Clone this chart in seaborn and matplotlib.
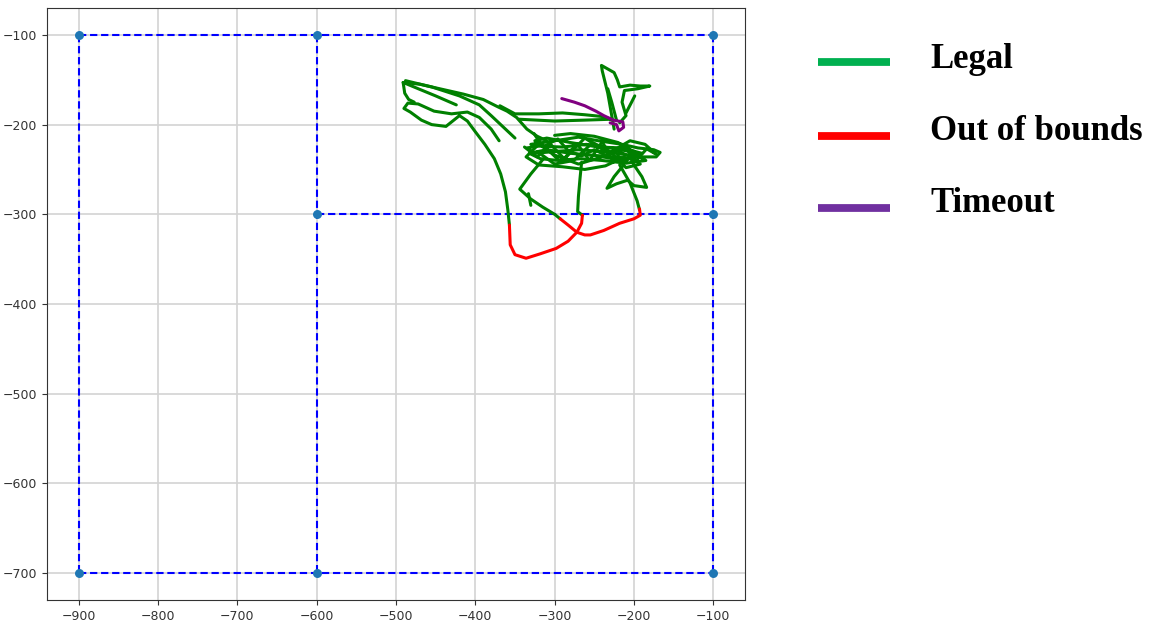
import matplotlib
matplotlib.use("Agg")
import matplotlib.pyplot as plt
from matplotlib.lines import Line2D
import seaborn as sns
import pandas as pd

# ---------------- data ----------------
# boundary track (blue dashed) : node coordinates
node_x = [-900, -600, -100, -600, -100, -900, -600, -100]
node_y = [-100, -100, -100, -300, -300, -700, -700, -700]
# boundary edges as (start node, end node)
edges = [(0, 2), (5, 7), (0, 5), (1, 6), (2, 7), (3, 4)]

# green (legal) trajectory segments
green_segments = [
    # main descent + lower-left loop
    [(-357, -312), (-359, -295), (-362, -275), (-368, -255), (-376, -238), (-388, -222),
     (-400, -208), (-410, -196), (-420, -190), (-437, -202), (-455, -200), (-468, -195),
     (-482, -186), (-490, -182), (-485, -176), (-472, -177), (-452, -185), (-430, -188),
     (-410, -186), (-395, -192), (-380, -205), (-370, -218)],
    [(-424, -178), (-450, -168), (-472, -160), (-491, -153), (-489, -165), (-484, -172),
     (-477, -175)],
    [(-491, -153), (-470, -155), (-445, -160), (-415, -166), (-390, -172), (-372, -180),
     (-360, -185), (-348, -192), (-335, -205), (-322, -213), (-310, -218)],
    [(-488, -151), (-455, -158), (-420, -168), (-395, -178), (-380, -190), (-362, -205),
     (-350, -215)],
    # top horizontal
    [(-369, -179), (-350, -188), (-320, -188), (-290, -187), (-262, -189), (-240, -191),
     (-228, -194), (-262, -195), (-300, -196), (-345, -194)],
    # central tangle
    [(-330, -222), (-300, -218), (-270, -214), (-245, -218), (-215, -222), (-195, -226),
     (-175, -228), (-167, -231), (-172, -236), (-190, -236), (-215, -233), (-240, -230),
     (-270, -228), (-300, -230), (-325, -232), (-335, -226), (-320, -224), (-290, -225),
     (-260, -222), (-230, -226), (-205, -230), (-185, -240), (-210, -243), (-240, -240),
     (-268, -238), (-295, -240), (-318, -238), (-332, -232), (-310, -228), (-280, -232),
     (-255, -234), (-225, -236), (-200, -238), (-190, -232), (-215, -226), (-245, -225),
     (-280, -220), (-310, -215), (-325, -218), (-300, -234), (-270, -244), (-240, -236),
     (-210, -240), (-195, -233), (-220, -220), (-250, -213), (-280, -210), (-300, -212)],
    [(-338, -225), (-322, -236), (-305, -222), (-288, -238), (-272, -221), (-256, -240),
     (-240, -219), (-226, -242), (-212, -224), (-198, -241), (-184, -227), (-172, -233),
     (-186, -222), (-205, -218), (-232, -232), (-262, -215), (-292, -242), (-318, -220),
     (-336, -236), (-320, -245), (-290, -247), (-262, -250), (-236, -246), (-212, -236)],
    [(-326, -210), (-315, -225), (-296, -216), (-283, -229), (-266, -235), (-250, -228),
     (-236, -234), (-222, -229), (-206, -235), (-192, -244), (-210, -248), (-230, -230),
     (-252, -220), (-276, -240), (-300, -244), (-322, -230)],
    # lower-left branch
    [(-314, -238), (-330, -255), (-344, -272), (-330, -283), (-315, -292), (-300, -300),
     (-293, -305)],
    [(-333, -277), (-330, -290)],
    # middle vertical
    [(-266, -242), (-268, -260), (-270, -280), (-271, -297), (-265, -301)],
    # right lower
    [(-213, -245), (-225, -258), (-234, -271), (-222, -266), (-208, -262), (-200, -268),
     (-184, -270), (-190, -258), (-200, -245), (-205, -236)],
    [(-218, -245), (-205, -265), (-196, -285), (-193, -295)],
    # upper right spike
    [(-225, -205), (-228, -190), (-233, -165), (-240, -140), (-241, -134), (-235, -137),
     (-225, -142), (-221, -150), (-218, -158), (-205, -156), (-192, -157), (-180, -157),
     (-195, -160), (-212, -162), (-215, -175), (-210, -190), (-218, -198)],
    [(-233, -160), (-228, -175), (-222, -195)],
    [(-210, -187), (-203, -175), (-199, -168)],
]

# red (out of bounds) segments
red_segments = [
    [(-357, -312), (-356, -334), (-350, -345), (-336, -349), (-318, -344), (-298, -338),
     (-283, -330), (-272, -320), (-266, -310), (-265, -301)],
    [(-293, -305), (-283, -312), (-272, -320), (-262, -323), (-255, -323), (-238, -318),
     (-218, -310), (-200, -305), (-192, -301), (-193, -294)],
]

# purple (timeout) segment
purple_segments = [
    [(-291, -171), (-275, -175), (-262, -179), (-248, -185), (-238, -190), (-226, -195),
     (-214, -197), (-213, -203), (-219, -207), (-222, -200), (-230, -198)],
]

legend_labels = ["Legal", "Out of bounds", "Timeout"]
legend_colors = ["#00b050", "#ff0000", "#7030a0"]

x_ticks = [-900, -800, -700, -600, -500, -400, -300, -200, -100]
y_ticks = [-100, -200, -300, -400, -500, -600, -700]


def seg_frame(segs):
    rows = []
    for i, s in enumerate(segs):
        for j, (x, y) in enumerate(s):
            rows.append({"x": x, "y": y, "seg": i, "order": j})
    return pd.DataFrame(rows)


edge_rows = []
for i, (a, b) in enumerate(edges):
    edge_rows.append({"x": node_x[a], "y": node_y[a], "seg": i})
    edge_rows.append({"x": node_x[b], "y": node_y[b], "seg": i})
edge_df = pd.DataFrame(edge_rows)
node_df = pd.DataFrame({"x": node_x, "y": node_y})

# ---------------- plot ----------------
fig = plt.figure(figsize=(11.59, 6.27), dpi=100)
ax = fig.add_axes([47 / 1159, 27 / 627, 698 / 1159, 592 / 627])

ax.grid(True, color="#d3d3d3", lw=1.2, zorder=0)
ax.set_axisbelow(True)

sns.lineplot(data=edge_df, x="x", y="y", units="seg", estimator=None, sort=False,
             color="blue", lw=1.5, ax=ax, zorder=2)
for line in ax.lines:
    line.set_dashes([3.5, 1.8])
sns.scatterplot(data=node_df, x="x", y="y", color="#1f77b4", s=42, linewidth=0,
                ax=ax, zorder=3)

for segs, col in [(green_segments, "green"), (red_segments, "red"),
                  (purple_segments, "purple")]:
    df = seg_frame(segs)
    sns.lineplot(data=df, x="x", y="y", units="seg", estimator=None, sort=False,
                 color=col, lw=2.2, ax=ax, zorder=4, solid_capstyle="round",
                 solid_joinstyle="round")

ax.set_xticks(x_ticks)
ax.set_yticks(y_ticks)
ax.set_xlim(-940, -60)
ax.set_ylim(-730, -70)
ax.set_xlabel("")
ax.set_ylabel("")
ax.tick_params(labelsize=9, colors="#333333")
for sp in ax.spines.values():
    sp.set_color("#333333")

# legend drawn at figure level
line_x0, line_x1 = 818 / 1159, 890 / 1159
line_ys = [62, 136, 208]
text_base = [68, 140, 212]
for lab, col, ly, ty in zip(legend_labels, legend_colors, line_ys, text_base):
    fig.add_artist(Line2D([line_x0, line_x1], [1 - ly / 627, 1 - ly / 627],
                          color=col, lw=5.6, solid_capstyle="butt",
                          transform=fig.transFigure))
    fig.text(930 / 1159, 1 - ty / 627, lab, fontsize=25, fontweight="bold",
             family="Liberation Serif", va="baseline", ha="left", color="black")

fig.savefig("out.png", dpi=100)
